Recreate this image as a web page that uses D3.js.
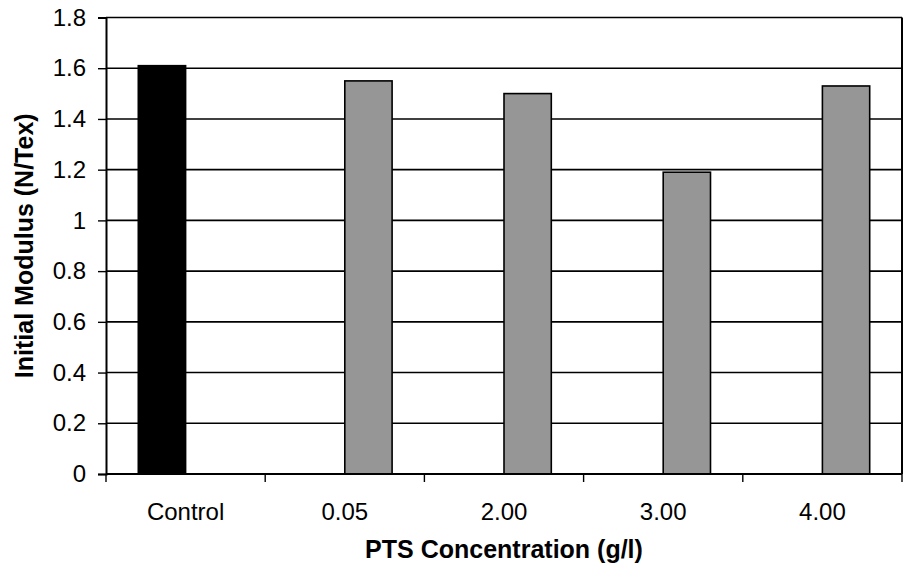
<!DOCTYPE html>
<html>
<head>
<meta charset="utf-8">
<script src="https://cdn.jsdelivr.net/npm/d3@7"></script>
<style>
  html, body { margin: 0; padding: 0; background: #fff; }
  svg { display: block; }
  text { font-family: Arial, "Liberation Sans", sans-serif; fill: #000; }
</style>
</head>
<body>
<div id="chart"></div>
<script>
// Categories on the x axis
const categories = ["Control", "0.05", "2.00", "3.00", "4.00"];
// Series: untreated control and PTS-treated samples
const seriesNames = ["Control", "PTS"];
const controlValues = [1.61, null, null, null, null];
const ptsValues = [null, 1.55, 1.50, 1.19, 1.53];
// Y-axis ticks and their labels
const yTicks = [0, 0.2, 0.4, 0.6, 0.8, 1.0, 1.2, 1.4, 1.6, 1.8];
const yTickLabels = ["0", "0.2", "0.4", "0.6", "0.8", "1", "1.2", "1.4", "1.6", "1.8"];

const seriesValues = [controlValues, ptsValues];
const seriesFill = ["#000000", "#969696"];

const W = 903, H = 566;
const margin = { left: 106, right: 1, top: 17.5, bottom: 92 };
const plotW = W - margin.left - margin.right;
const plotH = H - margin.top - margin.bottom;

const svg = d3.select("#chart").append("svg")
  .attr("width", W).attr("height", H);

const g = svg.append("g").attr("transform", `translate(${margin.left},${margin.top})`);

const x0 = d3.scaleBand().domain(categories).range([0, plotW]).padding(0);
const x1 = d3.scaleBand().domain(seriesNames).range([0, x0.bandwidth()])
  .paddingInner(0).paddingOuter(0.683);
const y = d3.scaleLinear().domain([0, 1.8]).range([plotH, 0]);

// Horizontal gridlines
g.append("g").selectAll("line")
  .data(yTicks.filter(t => t > 0))
  .join("line")
  .attr("x1", 0).attr("x2", plotW)
  .attr("y1", d => y(d)).attr("y2", d => y(d))
  .attr("stroke", "#000").attr("stroke-width", 1.6);

// Bars
const rows = [];
categories.forEach((c, i) => {
  seriesNames.forEach((s, j) => {
    const v = seriesValues[j][i];
    if (v != null) rows.push({ cat: c, series: s, value: v, fill: seriesFill[j] });
  });
});
g.append("g").selectAll("rect")
  .data(rows)
  .join("rect")
  .attr("x", d => x0(d.cat) + x1(d.series))
  .attr("y", d => y(d.value))
  .attr("width", x1.bandwidth())
  .attr("height", d => plotH - y(d.value))
  .attr("fill", d => d.fill)
  .attr("stroke", "#000").attr("stroke-width", 1.6);

// Right border of plot area
g.append("line")
  .attr("x1", plotW).attr("x2", plotW).attr("y1", 0).attr("y2", plotH)
  .attr("stroke", "#000").attr("stroke-width", 2);

// Y axis
const yAxis = d3.axisLeft(y)
  .tickValues(yTicks)
  .tickFormat((d, i) => yTickLabels[i])
  .tickSize(8).tickPadding(12);
const ya = g.append("g").call(yAxis);
ya.select(".domain").attr("stroke", "#000").attr("stroke-width", 2);
ya.selectAll(".tick line").attr("stroke", "#000").attr("stroke-width", 1.4);
ya.selectAll(".tick text")
  .attr("font-size", 24).attr("font-family", "Arial, 'Liberation Sans', sans-serif")
  .attr("fill", "#000");

// X axis: ticks on category boundaries, labels at band centers
const xa = g.append("g").attr("transform", `translate(0,${plotH})`);
xa.append("line")
  .attr("x1", 0).attr("x2", plotW).attr("y1", 0).attr("y2", 0)
  .attr("stroke", "#000").attr("stroke-width", 2);
const boundaries = categories.map(c => x0(c)).concat([plotW]);
xa.selectAll("line.tk")
  .data(boundaries)
  .join("line").attr("class", "tk")
  .attr("x1", d => d).attr("x2", d => d)
  .attr("y1", 0).attr("y2", 8)
  .attr("stroke", "#000").attr("stroke-width", 1.4);
xa.selectAll("text")
  .data(categories)
  .join("text")
  .attr("x", d => x0(d) + x0.bandwidth() / 2)
  .attr("y", 46)
  .attr("text-anchor", "middle")
  .attr("font-size", 24)
  .text(d => d);

// Axis titles
svg.append("text")
  .attr("x", margin.left + plotW / 2)
  .attr("y", 558)
  .attr("text-anchor", "middle")
  .attr("font-size", 25).attr("font-weight", "bold")
  .text("PTS Concentration (g/l)");

svg.append("text")
  .attr("transform", `translate(33,${margin.top + plotH / 2}) rotate(-90)`)
  .attr("text-anchor", "middle")
  .attr("font-size", 25).attr("font-weight", "bold")
  .text("Initial Modulus (N/Tex)");
</script>
</body>
</html>
